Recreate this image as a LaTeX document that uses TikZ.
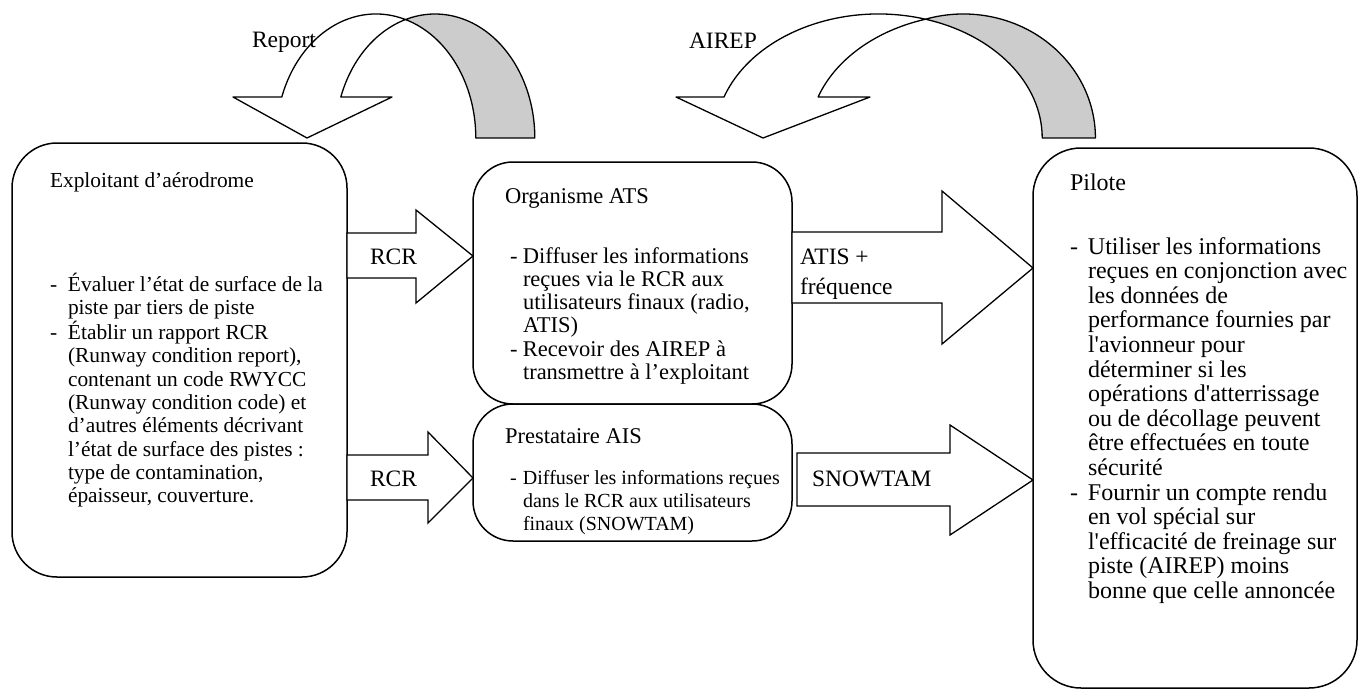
\documentclass[tikz,border=0pt]{standalone}
\usepackage{fontspec}
\setmainfont{Liberation Serif}
\newcommand\fsA{\fontsize{21.4pt}{23.3pt}\selectfont}
\newcommand\fsB{\fontsize{22.5pt}{23.3pt}\selectfont}
\newcommand\fsC{\fontsize{20pt}{23.3pt}\selectfont}
\newcommand\fsD{\fontsize{24pt}{24.6pt}\selectfont}
\newcommand\fsL{\fontsize{23.5pt}{30pt}\selectfont}
\newcommand\sq{\textquotesingle}
\begin{document}
\begin{tikzpicture}[x=1pt,y=1pt,
  box/.style={draw,line width=1.5pt,rounded corners=#1,inner sep=0pt,outer sep=0pt,anchor=north west},
  blk/.style={draw,line width=1.3pt,fill=white,line join=miter,miter limit=10},
  curv/.style={draw,line width=1.3pt,line join=round},
  txt/.style={anchor=base west,inner sep=0pt,outer sep=0pt},
  lbl/.style={txt,font=\fsL}]

\useasboundingbox (0,0) rectangle (1359,-691);

% ---------- curved arrow "Report"
\path[curv,fill=gray!40] (405.5,-19.55)
  arc[start angle=107.2,end angle=0,x radius=99.8,y radius=124]
  -- (475.8,-138)
  arc[start angle=0,end angle=72.8,x radius=99.8,y radius=124] -- cycle;
\path[curv,fill=white] (281.8,-97)
  arc[start angle=160.7,end angle=72.8,x radius=99.8,y radius=124]
  arc[start angle=107.2,end angle=160.7,x radius=99.8,y radius=124]
  -- (392,-97) -- (307,-138) -- (233,-97) -- cycle;

% ---------- curved arrow "AIREP"
\path[curv,fill=gray!40] (925.5,-19.2)
  arc[start angle=106.7,end angle=0,x radius=132,y radius=124]
  -- (1042.2,-138)
  arc[start angle=0,end angle=73.3,x radius=163.7,y radius=124] -- cycle;
\path[curv,fill=white] (724,-97)
  arc[start angle=160.7,end angle=73.3,x radius=163.7,y radius=124]
  arc[start angle=106.7,end angle=160.7,x radius=163.7,y radius=124]
  -- (870,-97) -- (763,-138) -- (676,-97) -- cycle;

\node[lbl] (lreport) at (252,-47) {Report};
\node[lbl] (lairep) at (689,-48) {AIREP};

% ---------- boxes
\node[box=45pt,minimum width=335pt,minimum height=434pt] (expl) at (12,-143) {};
\node[box=40pt,minimum width=319pt,minimum height=242pt] (ats) at (473,-162) {};
\node[box=40pt,minimum width=319pt,minimum height=137pt] (ais) at (473,-404) {};
\node[box=48pt,minimum width=324pt,minimum height=540pt] (pil) at (1033,-148) {};

% ---------- block arrows
\draw[blk] (expl.east |- 0,-233) -- (416,-233) -- (416,-210) -- (ats.west |- 0,-256)
  -- (416,-303) -- (416,-278) -- (expl.east |- 0,-278) -- cycle;
\draw[blk] (expl.east |- 0,-455) -- (428,-455) -- (428,-432) -- (ais.west |- 0,-478)
  -- (428,-523) -- (428,-500) -- (expl.east |- 0,-500) -- cycle;
\draw[blk] (ats.east |- 0,-232) -- (942,-232) -- (942,-191) -- (pil.west |- 0,-268)
  -- (942,-344) -- (942,-303) -- (ats.east |- 0,-303) -- cycle;
\draw[blk] (797,-453) -- (950,-453) -- (950,-425) -- (pil.west |- 0,-480)
  -- (950,-535) -- (950,-506) -- (797,-506) -- cycle;

\node[lbl] (lrcr1) at (370,-264) {RCR};
\node[lbl] (lrcr2) at (370,-486) {RCR};
\node[lbl] (latis) at (800,-264) {\begin{tabular}[t]{@{}l@{}}ATIS +\\fréquence\end{tabular}};
\node[lbl] (lsnow) at (812,-486) {SNOWTAM};

% ---------- texts
\node[txt,font=\fsA] (explt) at (50,-187) {Exploitant d’aérodrome};
\node[txt,font=\fsA] (expll) at (50,-291) {\begin{tabular}[t]{@{}p{18pt}@{}l@{}}
-& Évaluer l’état de surface de la\\
 & piste par tiers de piste\\
-& Établir un rapport RCR\\
 & (Runway condition report),\\
 & contenant un code RWYCC\\
 & (Runway condition code) et\\
 & d’autres éléments décrivant\\
 & l’état de surface des pistes :\\
 & type de contamination,\\
 & épaisseur, couverture.
\end{tabular}};

\node[txt,font=\fsB] (atst) at (505,-203) {Organisme ATS};
\node[txt,font=\fsB] (atsl) at (510,-263) {\begin{tabular}[t]{@{}p{13pt}@{}l@{}}
-& Diffuser les informations\\
 & reçues via le RCR aux\\
 & utilisateurs finaux (radio,\\
 & ATIS)\\
-& Recevoir des AIREP à\\
 & transmettre à l’exploitant
\end{tabular}};

\node[txt,font=\fsB] (aist) at (505,-443) {Prestataire AIS};
\node[txt,font=\fsC] (aisl) at (510,-484) {\begin{tabular}[t]{@{}p{13pt}@{}l@{}}
-& Diffuser les informations reçues\\
 & dans le RCR aux utilisateurs\\
 & finaux (SNOWTAM)
\end{tabular}};

\node[txt,font=\fsD] (pilt) at (1070,-190) {Pilote};
\node[txt,font=\fsD] (pill) at (1070,-254) {\begin{tabular}[t]{@{}p{18pt}@{}l@{}}
-& Utiliser les informations\\
 & reçues en conjonction avec\\
 & les données de\\
 & performance fournies par\\
 & l\sq avionneur pour\\
 & déterminer si les\\
 & opérations d\sq atterrissage\\
 & ou de décollage peuvent\\
 & être effectuées en toute\\
 & sécurité\\
-& Fournir un compte rendu\\
 & en vol spécial sur\\
 & l\sq efficacité de freinage sur\\
 & piste (AIREP) moins\\
 & bonne que celle annoncée
\end{tabular}};
\end{tikzpicture}
\end{document}
